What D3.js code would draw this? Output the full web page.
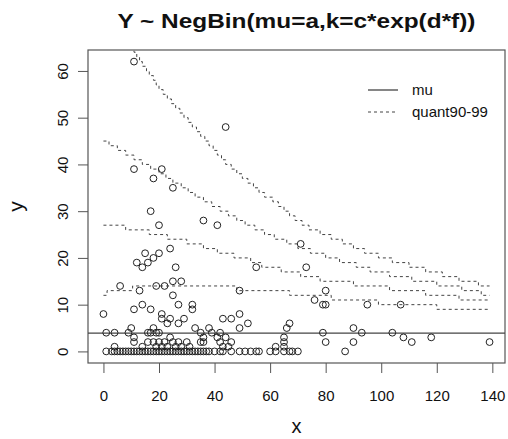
<!DOCTYPE html>
<html>
    <head>
        <meta charset="utf-8">
        <style>
          body { margin: 0; background: #fff; }
          text { font-family: 'Liberation Sans', Arial, sans-serif; fill: #111; }
        </style>
    </head>
    <body>
        <script src="https://d3js.org/d3.v7.min.js"></script>
        <script>
          // observed points (x, y)
          const pointX = [
            11, 44, 11, 18, 21, 25, 17, 20, 36, 41,
            15, 20, 18, 16, 12, 14, 24, 26, 55, 73, 71,
            6, 13, 19, 22, 25, 28, 25, 49, 80, 76, 79, 80, 95, 107,
            0, 11, 14, 17, 21, 21, 24, 27, 32, 32, 23, 27, 29, 33, 10, 43, 46, 49, 49, 52, 38,
            67, 66, 65, 90, 93, 104, 108, 111, 118, 139, 87, 90, 80, 79,
            1, 4, 9, 18, 17, 19, 16, 20, 35, 39, 42,
            11, 24, 36, 41, 44,
            11, 16, 18, 20, 22, 25, 27, 30, 35, 36, 42, 46, 65,
            4, 14, 19, 21, 23, 26, 28, 31, 43, 45, 62, 65,
            1, 3, 4, 5, 6, 7, 8, 9, 10, 11, 12, 13, 14, 15, 16, 17, 18, 19, 20, 21,
            22, 23, 24, 25, 26, 27, 28, 29, 30, 31, 32, 33, 34, 35, 36, 37, 38, 40, 42, 43,
            46, 49, 51, 53, 55, 56, 60, 62, 65, 67, 68, 70
          ];
          const pointY = [
            62, 48, 39, 37, 39, 35, 30, 27, 28, 27,
            21, 21, 20, 19, 19, 18, 22, 18, 18, 18, 23,
            14, 13, 14, 14, 15, 15, 12, 13, 13, 11, 10, 10, 10, 10,
            8, 9, 10, 9, 8, 7, 7, 10, 10, 9, 6, 6, 7, 5, 5, 7, 7, 8, 5, 6, 5,
            6, 5, 3, 5, 4, 4, 3, 2, 3, 2, 0, 2, 2, 4,
            4, 4, 4, 5, 4, 4, 4, 4, 4, 4, 4,
            3, 3, 3, 3, 3,
            2, 2, 2, 2, 2, 2, 2, 2, 2, 2, 2, 2, 2,
            1, 1, 1, 1, 1, 1, 1, 1, 1, 1, 1, 1,
            0, 0, 0, 0, 0, 0, 0, 0, 0, 0, 0, 0, 0, 0, 0, 0, 0, 0, 0, 0,
            0, 0, 0, 0, 0, 0, 0, 0, 0, 0, 0, 0, 0, 0, 0, 0, 0, 0, 0, 0,
            0, 0, 0, 0, 0, 0, 0, 0, 0, 0, 0, 0
          ];

          const mu = 3.9;

          // quantile step lines: [x where the step starts, value]
          const quant90 = [[0,12],[1.3,13],[10.5,14],[48,13],[67,12],[82,11],[99,10],[120,9],[139,9]];
          const quant95 = [[0,27],[8,26],[16.5,25],[23,24],[30,23],[36,22],[41,21],[47,20],[53,19],[57,18],
            [64,17],[71,16],[78,15],[90,14],[103,13],[116,12],[128,11],[139,11]];
          const quant99 = [[0,45],[2,44],[5,43],[8,42],[11,41],[14,40],[17,39],[20,38],[22.5,37],[25,36],
            [28,35],[30.5,34],[33,33],[36,32],[39,31],[42,30],[45,29],[48,28],[51,27],[54.5,26],[58,25],
            [61.5,24],[66,23],[70,22],[74.5,21],[80,20],[85,19],[91,18],[96,17],[103,16],[111,15],
            [120,14],[129,13],[136,12],[139,12]];
          const quant999 = [[10,65],[11,64],[12,63],[13,62],[14,61],[15.5,60],[16.5,59],[18,58],[19,57],
            [20,56],[21.5,55],[23,54],[24.5,53],[26,52],[27.5,51],[29,50],[30.5,49],[32,48],[33.5,47],
            [35,46],[36.5,45],[38,44],[39.5,43],[41,42],[42.5,41],[44,40],[46,39],[48,38],[50,37],
            [52,36],[54,35],[56,34],[58,33],[61,32],[63,31],[65,30],[67,29],[69,28],[71.5,27],[74,26],
            [78,25],[82,24],[86,23],[90,22],[94,21],[99,20],[104,19],[110,18],[116,17],[122,16],
            [128,15],[135,14],[139,14]];

          const xTicks = [0, 20, 40, 60, 80, 100, 120, 140];
          const yTicks = [0, 10, 20, 30, 40, 50, 60];
          const legendLabels = ['mu', 'quant90-99'];

          function makeChart() {
            const W = 508, H = 439;
            const plot = { left: 88, right: 505, top: 50, bottom: 363 };

            const svg = d3.select('body').append('svg')
              .attr('width', W)
              .attr('height', H);

            // R style 4% padding on the data range
            const xr = d3.extent(pointX), yr = d3.extent(pointY);
            const xpad = (xr[1] - xr[0]) * 0.04, ypad = (yr[1] - yr[0]) * 0.04;

            const xScale = d3.scaleLinear()
              .domain([xr[0] - xpad, xr[1] + xpad])
              .range([plot.left, plot.right]);
            const yScale = d3.scaleLinear()
              .domain([yr[0] - ypad, yr[1] + ypad])
              .range([plot.bottom, plot.top]);

            svg.append('defs').append('clipPath').attr('id', 'clip')
              .append('rect')
              .attr('x', plot.left).attr('y', plot.top)
              .attr('width', plot.right - plot.left)
              .attr('height', plot.bottom - plot.top);

            // title
            svg.append('text')
              .attr('x', (plot.left + plot.right) / 2)
              .attr('y', 28)
              .attr('text-anchor', 'middle')
              .attr('font-size', 21)
              .attr('font-weight', 'bold')
              .attr('textLength', 358)
              .attr('lengthAdjust', 'spacingAndGlyphs')
              .text('Y ~ NegBin(mu=a,k=c*exp(d*f))');

            // axes
            const xAxis = d3.axisBottom(xScale).tickValues(xTicks).tickSize(10).tickSizeOuter(0).tickPadding(17);
            const yAxis = d3.axisLeft(yScale).tickValues(yTicks).tickSize(10).tickSizeOuter(0);

            const gx = svg.append('g')
              .attr('transform', `translate(0,${plot.bottom})`)
              .call(xAxis);
            gx.select('.domain').remove();
            gx.selectAll('line').attr('stroke', '#555');
            gx.selectAll('text').attr('font-size', 15).attr('fill', '#111')
              .attr('font-family', "'Liberation Sans', Arial, sans-serif");

            const gy = svg.append('g')
              .attr('transform', `translate(${plot.left},0)`)
              .call(yAxis);
            gy.select('.domain').remove();
            gy.selectAll('line').attr('stroke', '#555');
            gy.selectAll('text')
              .attr('font-size', 15).attr('fill', '#111')
              .attr('font-family', "'Liberation Sans', Arial, sans-serif")
              .attr('text-anchor', 'middle')
              .attr('x', null).attr('dy', null)
              .attr('transform', 'translate(-20,0) rotate(-90)');

            // axis titles
            svg.append('text')
              .attr('x', (plot.left + plot.right) / 2)
              .attr('y', 433)
              .attr('text-anchor', 'middle')
              .attr('font-size', 20)
              .text('x');
            svg.append('text')
              .attr('transform', `translate(23,${(plot.top + plot.bottom) / 2}) rotate(-90)`)
              .attr('text-anchor', 'middle')
              .attr('font-size', 21)
              .text('y');

            // box
            svg.append('rect')
              .attr('x', plot.left).attr('y', plot.top)
              .attr('width', plot.right - plot.left)
              .attr('height', plot.bottom - plot.top)
              .attr('fill', 'none')
              .attr('stroke', '#555')
              .attr('stroke-width', 1.2);

            const area = svg.append('g').attr('clip-path', 'url(#clip)');

            // quantile step lines
            const step = d3.line()
              .x(d => xScale(d[0]))
              .y(d => yScale(d[1]))
              .curve(d3.curveStepAfter);

            area.selectAll('.quant')
              .data([quant90, quant95, quant99, quant999])
              .join('path')
              .attr('class', 'quant')
              .attr('d', step)
              .attr('fill', 'none')
              .attr('stroke', '#444')
              .attr('stroke-width', 1)
              .attr('stroke-dasharray', '3,3');

            // mu line
            area.append('line')
              .attr('x1', plot.left).attr('x2', plot.right)
              .attr('y1', yScale(mu)).attr('y2', yScale(mu))
              .attr('stroke', '#444')
              .attr('stroke-width', 1.3);

            // points
            area.selectAll('circle')
              .data(pointX.map((x, i) => [x, pointY[i]]))
              .join('circle')
              .attr('cx', d => xScale(d[0]))
              .attr('cy', d => yScale(d[1]))
              .attr('r', 3.4)
              .attr('fill', 'none')
              .attr('stroke', '#222')
              .attr('stroke-width', 1);

            // legend (no box)
            const legend = svg.append('g');
            const lg = legend.selectAll('g')
              .data(legendLabels)
              .join('g')
              .attr('transform', (d, i) => `translate(368,${90 + i * 22})`);
            lg.append('line')
              .attr('x1', 0).attr('x2', 30)
              .attr('stroke', '#444')
              .attr('stroke-width', (d, i) => i === 0 ? 1.3 : 1)
              .attr('stroke-dasharray', (d, i) => i === 0 ? null : '3,3');
            lg.append('text')
              .attr('x', 44)
              .attr('dy', '0.35em')
              .attr('font-size', 15)
              .text(d => d);
          }

          makeChart();
        </script>
    </body>
</html>
